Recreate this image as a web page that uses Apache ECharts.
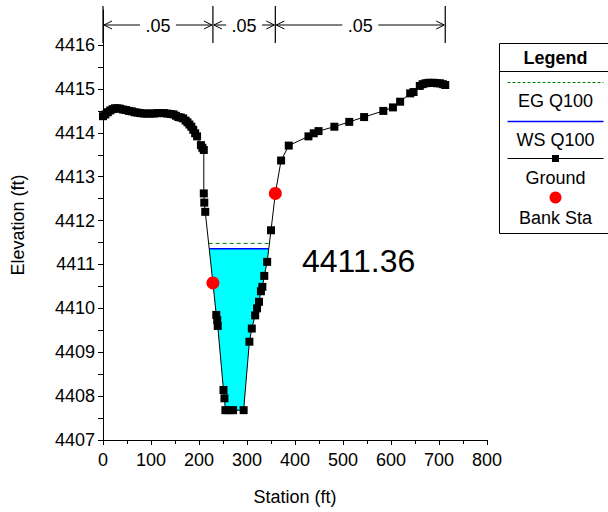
<!DOCTYPE html>
<html>
<head>
<meta charset="utf-8">
<script src="https://cdn.jsdelivr.net/npm/echarts@6/dist/echarts.min.js"></script>
<style>html,body{margin:0;padding:0;background:#fff;}#c{width:608px;height:512px;}</style>
</head>
<body>
<div id="c"></div>
<script>
// ---- data ----
var groundSta = [0,5,10,15,20,25,30,36,42,48,54,60,66,72,78,85,92,99,106,113,120,127,134,141,147,152,157,162,167,172,176,180,184,188,192,196,204,207,210,
  210,211,213,229,236,238,239,251,253,255,263,271,293,
  305,310,317,321,325,329,332,336,342,350,359,371,387,428,439,449,482,513,544,584,604,619,640,647,
  660,666,672,678,684,690,696,702,708,713];
var groundElev = [4414.38,4414.42,4414.47,4414.51,4414.54,4414.56,4414.56,4414.55,4414.53,4414.52,4414.50,4414.49,4414.47,4414.46,4414.45,4414.44,4414.44,4414.44,4414.44,4414.45,4414.45,4414.45,4414.44,4414.43,4414.42,4414.39,4414.36,4414.35,4414.33,4414.28,4414.24,4414.19,4414.14,4414.07,4413.99,4413.92,4413.72,4413.66,4413.61,
  4412.62,4412.41,4412.20,4410.58,4409.85,4409.73,4409.60,4408.14,4407.95,4407.68,4407.68,4407.68,4407.68,
  4409.24,4409.54,4409.84,4410.00,4410.15,4410.39,4410.49,4410.74,4411.06,4411.78,4412.62,4413.37,4413.71,4413.92,4413.99,4414.04,4414.14,4414.25,4414.36,4414.50,4414.58,4414.71,4414.90,4414.93,
  4415.07,4415.11,4415.13,4415.14,4415.14,4415.14,4415.13,4415.13,4415.11,4415.09];
var bankSta = [229, 359];
var bankElev = [4410.58, 4412.62];
var wsElev = 4411.36;   // WS Q100
var egElev = 4411.48;   // EG Q100
var nBreaks = [0, 229, 359, 713];
var nValues = ['.05', '.05', '.05'];
var xTicks = [0,100,200,300,400,500,600,700,800];
var yTicks = [4407,4408,4409,4410,4411,4412,4413,4414,4415,4416];
var legendItems = ['EG Q100', 'WS Q100', 'Ground', 'Bank Sta'];

// ---- derived from data ----
var ground = groundSta.map(function (s, i) { return [s, groundElev[i]]; });
function crossings(level) {
  var iMin = 0;
  for (var i = 1; i < ground.length; i++) if (ground[i][1] < ground[iMin][1]) iMin = i;
  var L = iMin, R = iMin;
  while (L > 0 && ground[L - 1][1] < level) L--;
  while (R < ground.length - 1 && ground[R + 1][1] < level) R++;
  function interp(a, b) {
    var t = (level - a[1]) / (b[1] - a[1]);
    return [a[0] + t * (b[0] - a[0]), level];
  }
  return { left: interp(ground[L], ground[L - 1]), right: interp(ground[R], ground[R + 1]), L: L, R: R };
}
var wsX = crossings(wsElev);
var egX = crossings(egElev);
var waterPoly = [wsX.left].concat(ground.slice(wsX.L, wsX.R + 1)).concat([wsX.right]);
var halfTicks = [];
yTicks.forEach(function (v, i) { halfTicks.push(v); if (i < yTicks.length - 1) halfTicks.push(v + 0.5); });

var FONT = "'Liberation Sans', Arial, sans-serif";
var FS = 18;
var chart = echarts.init(document.getElementById('c'), null, { renderer: 'svg' });

var option = {
  animation: false,
  backgroundColor: '#fff',
  grid: { left: 103, right: 121, top: 10, bottom: 72 },
  xAxis: {
    type: 'value', min: xTicks[0], max: xTicks[xTicks.length - 1], interval: 100,
    name: 'Station (ft)', nameLocation: 'middle', nameGap: 48,
    nameTextStyle: { fontFamily: FONT, fontSize: FS, color: '#000' },
    axisLine: { show: true, onZero: false, lineStyle: { color: '#000', width: 1 } },
    axisTick: { show: true, length: 5, lineStyle: { color: '#000' } },
    minorTick: { show: true, splitNumber: 2, length: 4, lineStyle: { color: '#000' } },
    axisLabel: { fontFamily: FONT, fontSize: FS, color: '#000', margin: 11 },
    splitLine: { show: false }
  },
  yAxis: {
    type: 'value', min: yTicks[0], max: 4416.8, interval: 1,
    name: 'Elevation (ft)', nameLocation: 'middle', nameGap: 76, nameRotate: 90,
    nameTextStyle: { fontFamily: FONT, fontSize: FS, color: '#000' },
    axisLine: { show: true, onZero: false, lineStyle: { color: '#000', width: 1 } },
    axisTick: { show: true, length: 5, customValues: halfTicks, lineStyle: { color: '#000' } },
    axisLabel: {
      fontFamily: FONT, fontSize: FS, color: '#000', margin: 8, customValues: yTicks,
      formatter: function (v) { return String(v); }
    },
    splitLine: { show: false }
  },
  series: [
    {
      name: 'Water', type: 'custom', z: 1, silent: true,
      data: [0],
      renderItem: function (params, api) {
        var pts = waterPoly.map(function (p) { return api.coord(p); });
        return { type: 'polygon', shape: { points: pts }, style: { fill: '#00FFFF', stroke: null } };
      }
    },
    {
      name: 'EG Q100', type: 'line', z: 3, symbol: 'none',
      data: [egX.left, egX.right],
      lineStyle: { color: '#008000', width: 1, type: [4, 3] }
    },
    {
      name: 'WS Q100', type: 'line', z: 3, symbol: 'none',
      data: [wsX.left, wsX.right],
      lineStyle: { color: '#0000FF', width: 1.5 }
    },
    {
      name: 'Ground', type: 'line', z: 4,
      data: ground, symbol: 'rect', symbolSize: 8, showAllSymbol: true,
      itemStyle: { color: '#000' },
      lineStyle: { color: '#000', width: 1 }
    },
    {
      name: 'Bank Sta', type: 'scatter', z: 5,
      data: bankSta.map(function (s, i) { return [s, bankElev[i]]; }),
      symbol: 'circle', symbolSize: 13,
      itemStyle: { color: '#FF0000', opacity: 1, borderWidth: 0 }
    },
    {
      name: 'Manning n', type: 'custom', z: 6, silent: true,
      data: [0],
      renderItem: function (params, api) {
        var ch = [];
        var yTop = 6, yBot = 43, yA = 25;
        var xs = nBreaks.map(function (s) { return api.coord([s, yTicks[0]])[0]; });
        xs.forEach(function (x) {
          ch.push({ type: 'line', shape: { x1: x, y1: yTop, x2: x, y2: yBot }, style: { stroke: '#000', lineWidth: 1.2 } });
        });
        for (var i = 0; i < nValues.length; i++) {
          var x1 = xs[i], x2 = xs[i + 1], mid = (x1 + x2) / 2, half = 18;
          var st = { stroke: '#000', lineWidth: 1 };
          ch.push({ type: 'line', shape: { x1: x1 + 1, y1: yA, x2: mid - half, y2: yA }, style: st });
          ch.push({ type: 'line', shape: { x1: mid + half, y1: yA, x2: x2 - 1, y2: yA }, style: st });
          ch.push({ type: 'polyline', shape: { points: [[x1 + 9, yA - 4], [x1 + 1, yA], [x1 + 9, yA + 4]] }, style: { stroke: '#000', lineWidth: 1, fill: null } });
          ch.push({ type: 'polyline', shape: { points: [[x2 - 9, yA - 4], [x2 - 1, yA], [x2 - 9, yA + 4]] }, style: { stroke: '#000', lineWidth: 1, fill: null } });
          ch.push({ type: 'text', style: { text: nValues[i], x: mid, y: yA + 1, align: 'center', verticalAlign: 'middle', font: FS + 'px ' + FONT, fill: '#000' } });
        }
        return { type: 'group', children: ch };
      }
    }
  ],
  graphic: [
    {
      type: 'text', left: 302, top: 245, z: 10,
      style: { text: wsElev.toFixed(2), font: '32px ' + FONT, fill: '#000' }
    },
    {
      type: 'group', left: 497, top: 43, z: 10,
      children: [
        { type: 'rect', shape: { x: 0, y: 0, width: 114, height: 190 }, style: { fill: '#fff', stroke: '#000', lineWidth: 1 } },
        { type: 'line', shape: { x1: 0, y1: 28, x2: 114, y2: 28 }, style: { stroke: '#000', lineWidth: 1 } },
        { type: 'text', style: { text: 'Legend', x: 56, y: 14, align: 'center', verticalAlign: 'middle', font: 'bold ' + FS + 'px ' + FONT, fill: '#000' } },
        { type: 'line', shape: { x1: 8, y1: 39, x2: 104, y2: 39 }, style: { stroke: '#008000', lineWidth: 1, lineDash: [3, 2] } },
        { type: 'text', style: { text: legendItems[0], x: 56, y: 57, align: 'center', verticalAlign: 'middle', font: FS + 'px ' + FONT, fill: '#000' } },
        { type: 'line', shape: { x1: 8, y1: 78, x2: 104, y2: 78 }, style: { stroke: '#0000FF', lineWidth: 1.5 } },
        { type: 'text', style: { text: legendItems[1], x: 56, y: 96, align: 'center', verticalAlign: 'middle', font: FS + 'px ' + FONT, fill: '#000' } },
        { type: 'line', shape: { x1: 8, y1: 115, x2: 104, y2: 115 }, style: { stroke: '#000', lineWidth: 1 } },
        { type: 'rect', shape: { x: 52.5, y: 111.5, width: 7, height: 7 }, style: { fill: '#000' } },
        { type: 'text', style: { text: legendItems[2], x: 56, y: 134, align: 'center', verticalAlign: 'middle', font: FS + 'px ' + FONT, fill: '#000' } },
        { type: 'circle', shape: { cx: 56, cy: 154, r: 6 }, style: { fill: '#FF0000' } },
        { type: 'text', style: { text: legendItems[3], x: 56, y: 174, align: 'center', verticalAlign: 'middle', font: FS + 'px ' + FONT, fill: '#000' } }
      ]
    }
  ]
};
chart.setOption(option);
</script>
</body>
</html>
